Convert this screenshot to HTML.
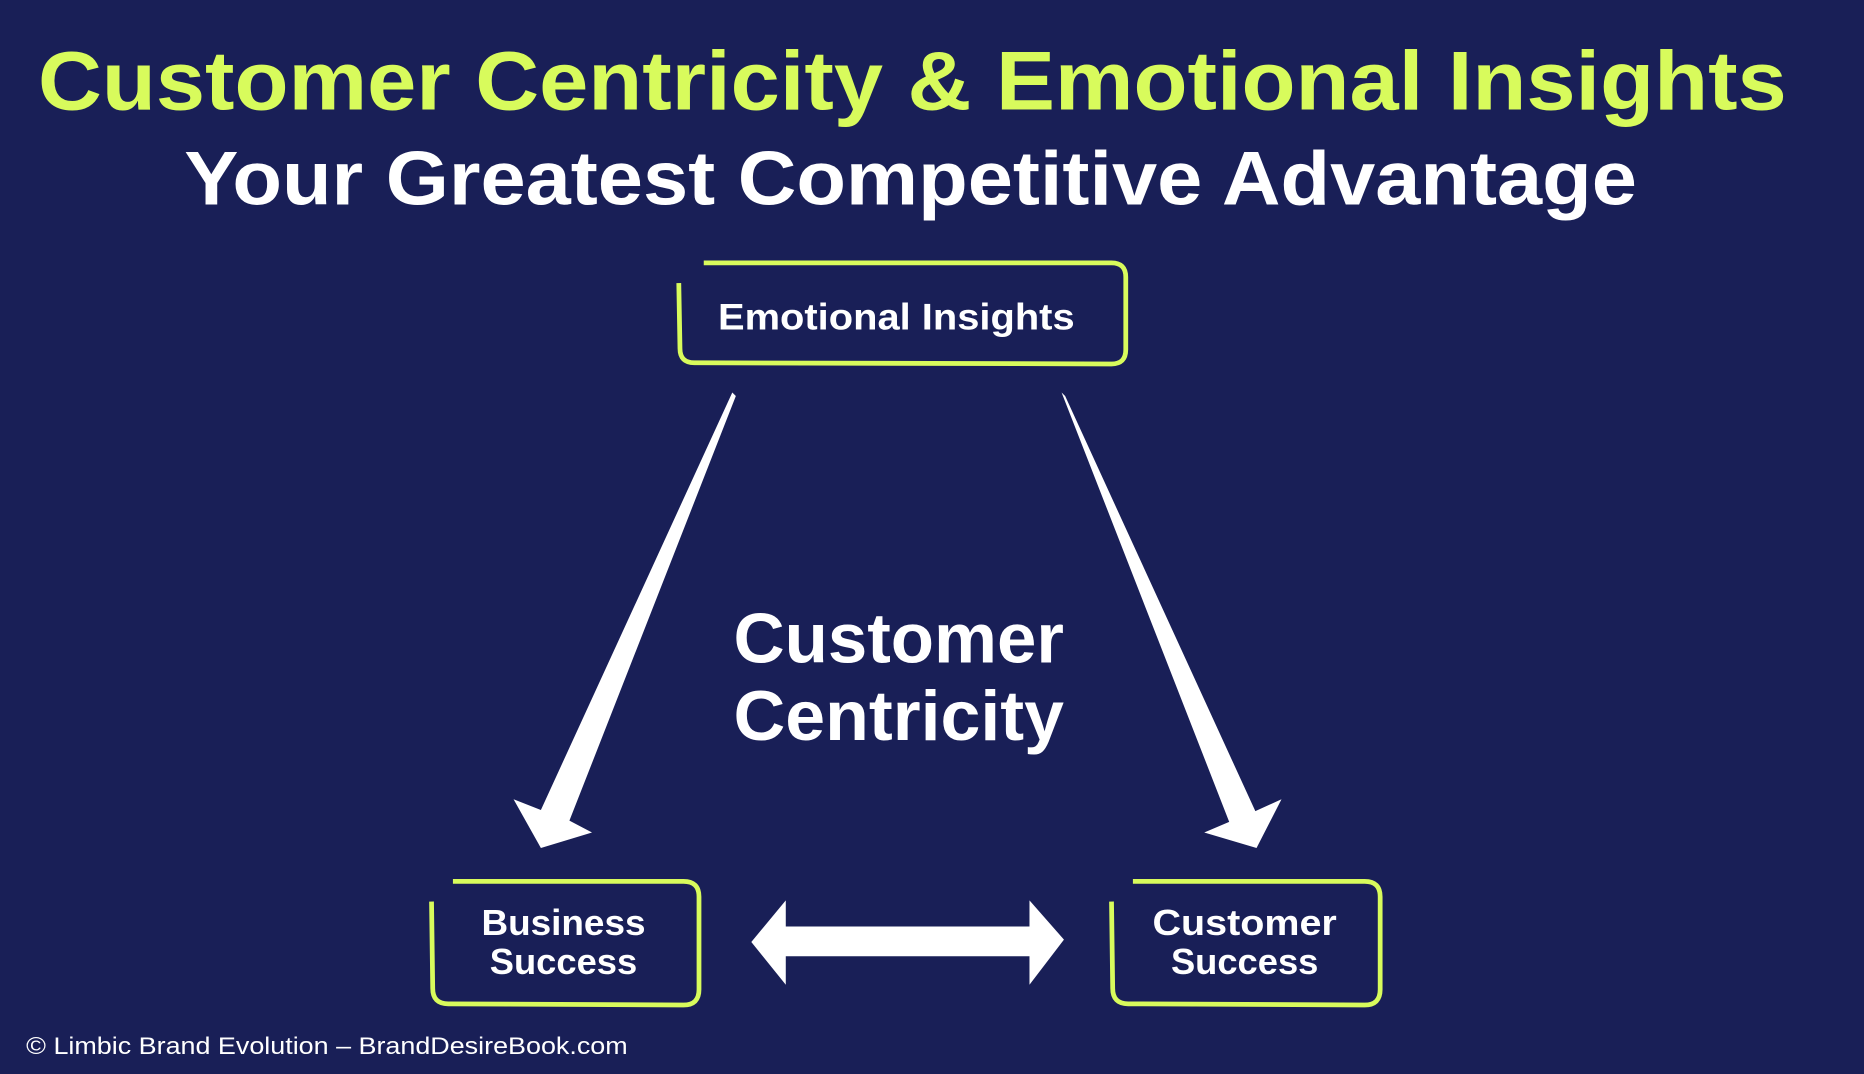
<!DOCTYPE html>
<html><head><meta charset="utf-8"><style>
html,body{margin:0;padding:0;background:#191f57;}
svg{display:block;}
text{font-family:"Liberation Sans","DejaVu Sans",sans-serif;font-weight:bold;}
</style></head><body>
<svg width="1864" height="1074" viewBox="0 0 1568 903" preserveAspectRatio="none" xmlns="http://www.w3.org/2000/svg">
<rect width="1568" height="903" fill="#191f57"/>
<text x="32" y="92" font-size="70" fill="#d8fb5c" textLength="1471" lengthAdjust="spacingAndGlyphs">Customer Centricity &amp; Emotional Insights</text>
<text x="155" y="172" font-size="64" fill="#ffffff" textLength="1222" lengthAdjust="spacingAndGlyphs">Your Greatest Competitive Advantage</text>

<!-- Emotional Insights box -->
<path d="M592,221 L935,221 Q947,221 947,233 L947,294 Q947,306 935,306 L584,305 Q572,305 572,293 L571,238" fill="none" stroke="#d8fb5c" stroke-width="4"/>
<text x="754" y="277" font-size="31" fill="#fff" text-anchor="middle" textLength="300" lengthAdjust="spacingAndGlyphs">Emotional Insights</text>

<!-- diagonal arrows -->
<polygon points="616,330 619,333 479,690 498,700 455,713 432,672 455,681" fill="#fff"/>
<polygon points="893,330 896,333 1056,682 1078,672 1057,713 1013,700 1034,691" fill="#fff"/>

<text x="617" y="557" font-size="59" fill="#fff" textLength="278" lengthAdjust="spacingAndGlyphs">Customer</text>
<text x="617" y="622" font-size="59" fill="#fff" textLength="278" lengthAdjust="spacingAndGlyphs">Centricity</text>

<!-- Business Success -->
<path d="M381,741 L575,741 Q588,741 588,754 L588,832 Q588,845 575,845 L377,844 Q364,844 364,831 L363,758" fill="none" stroke="#d8fb5c" stroke-width="4"/>
<text x="474" y="786" font-size="30" fill="#fff" text-anchor="middle" textLength="138" lengthAdjust="spacingAndGlyphs">Business</text>
<text x="474" y="819" font-size="30" fill="#fff" text-anchor="middle" textLength="124" lengthAdjust="spacingAndGlyphs">Success</text>

<!-- Customer Success -->
<path d="M953,741 L1148,741 Q1161,741 1161,754 L1161,832 Q1161,845 1148,845 L949,844 Q936,844 936,831 L935,758" fill="none" stroke="#d8fb5c" stroke-width="4"/>
<text x="1047" y="786" font-size="30" fill="#fff" text-anchor="middle" textLength="155" lengthAdjust="spacingAndGlyphs">Customer</text>
<text x="1047" y="819" font-size="30" fill="#fff" text-anchor="middle" textLength="124" lengthAdjust="spacingAndGlyphs">Success</text>

<!-- double arrow -->
<polygon points="632,792 661,757 661,779 866,779 866,757 895,790 866,828 866,804 661,804 661,828" fill="#fff"/>

<text x="22" y="886" font-size="20" font-weight="normal" style="font-weight:normal" fill="#fff" textLength="506" lengthAdjust="spacingAndGlyphs">© Limbic Brand Evolution – BrandDesireBook.com</text>
</svg>
</body></html>
